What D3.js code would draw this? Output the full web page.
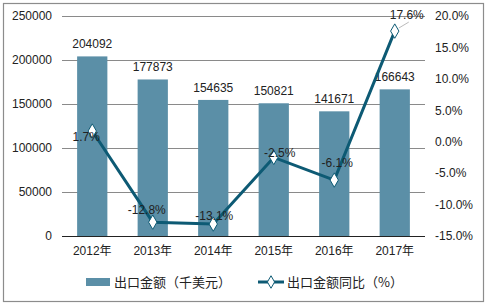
<!DOCTYPE html>
<html>
<head>
<meta charset="utf-8">
<script src="https://cdn.jsdelivr.net/npm/d3@7"></script>
<style>
body{margin:0;background:#fff;}
text{font-family:"Liberation Sans","Noto Sans CJK SC",sans-serif;font-size:12px;fill:#222;}
.lg text{font-family:"Noto Sans CJK SC",sans-serif;font-size:13px;}
</style>
</head>
<body>
<div id="chart"></div>
<script>
// data
var years=['2012年','2013年','2014年','2015年','2016年','2017年']
var amounts=[204092,177873,154635,150821,141671,166643]
var yoy=[1.7,-12.8,-13.1,-2.5,-6.1,17.6]
var leftTicks=[0,50000,100000,150000,200000,250000]
var rightTicks=[-15,-10,-5,0,5,10,15,20]
var legendNames=['出口金额（千美元）','出口金额同比（%）']

var W=487,H=306
var svg=d3.select('#chart').append('svg').attr('width',W).attr('height',H)

// outer frame
svg.append('rect').attr('x',3.5).attr('y',3.5).attr('width',480).attr('height',298)
    .attr('fill','#fff').attr('stroke','#8c8c8c').attr('stroke-width',1.2)

var x=d3.scaleBand().domain(years).range([62,425]).paddingInner(0.5).paddingOuter(0.25)
var y=d3.scaleLinear().domain([0,250000]).range([236,16])
var y2=d3.scaleLinear().domain([-15,20]).range([236,16])

// grid
svg.append('g').selectAll('line').data(leftTicks.slice(1)).join('line')
    .attr('x1',62).attr('x2',425).attr('y1',d=>Math.round(y(d))+0.5).attr('y2',d=>Math.round(y(d))+0.5)
    .attr('stroke','#8a8a8a').attr('stroke-width',1)

// bars
svg.append('g').selectAll('rect').data(amounts).join('rect')
    .attr('x',(d,i)=>x(years[i])).attr('width',x.bandwidth())
    .attr('y',d=>y(d)).attr('height',d=>236-y(d))
    .attr('fill','#5b8fa7')

svg.append('g').selectAll('text').data(amounts).join('text')
    .attr('x',(d,i)=>x(years[i])+x.bandwidth()/2).attr('y',d=>y(d)-8)
    .attr('text-anchor','middle').text(d=>d)

// baseline
svg.append('line').attr('x1',62).attr('x2',425).attr('y1',236.5).attr('y2',236.5)
    .attr('stroke','#222').attr('stroke-width',1)

// axes
var ax=svg.append('g').attr('transform','translate(62,0)')
    .call(d3.axisLeft(y).tickValues(leftTicks).tickSize(0).tickPadding(10).tickFormat(d=>d))
ax.select('.domain').remove()
ax.selectAll('text').style('font-size','12px')

var ax2=svg.append('g').attr('transform','translate(425,0)')
    .call(d3.axisRight(y2).tickValues(rightTicks).tickSize(0).tickPadding(10).tickFormat(d=>d.toFixed(1)+'%'))
ax2.select('.domain').remove()
ax2.selectAll('text').style('font-size','12px')

var axb=svg.append('g').attr('transform','translate(0,236)')
    .call(d3.axisBottom(x).tickSize(0).tickPadding(10))
axb.select('.domain').remove()
axb.selectAll('text').style('font-size','12px')

// line
var cx=(d,i)=>x(years[i])+x.bandwidth()/2
var line=d3.line().x((d,i)=>cx(d,i)).y(d=>y2(d))
svg.append('path').datum(yoy).attr('d',line)
    .attr('fill','none').attr('stroke','#0d5a74').attr('stroke-width',3)

// leader line for last label
var lastI=yoy.length-1
svg.append('line').attr('x1',cx(0,lastI)+4).attr('y1',y2(yoy[lastI])-3)
    .attr('x2',cx(0,lastI)+14).attr('y2',y2(yoy[lastI])-9)
    .attr('stroke','#bbb').attr('stroke-width',1)

svg.append('g').selectAll('path').data(yoy).join('path')
    .attr('d',d3.symbol().type(d3.symbolDiamond).size(60))
    .attr('transform',(d,i)=>`translate(${cx(d,i)},${y2(d)})`)
    .attr('fill','#fff').attr('stroke','#0d5a74').attr('stroke-width',1)

// label offsets relative to the points
var lblOff=[[-6,10],[-6,-8],[1,-4],[6,0],[3,-13],[12,-12]]
svg.append('g').selectAll('text').data(yoy).join('text')
    .attr('x',(d,i)=>cx(d,i)+lblOff[i][0]).attr('y',(d,i)=>y2(d)+lblOff[i][1])
    .attr('text-anchor','middle').text(d=>d.toFixed(1)+'%')

// legend
var lg=svg.append('g').attr('class','lg')
lg.append('rect').attr('x',86).attr('y',278).attr('width',24).attr('height',8).attr('fill','#5b8fa7')
lg.append('text').attr('x',114).attr('y',287).text(legendNames[0])
lg.append('line').attr('x1',258).attr('x2',284).attr('y1',282).attr('y2',282)
    .attr('stroke','#0d5a74').attr('stroke-width',3)
lg.append('path').attr('d',d3.symbol().type(d3.symbolDiamond).size(45))
    .attr('transform','translate(271,282)').attr('fill','#fff').attr('stroke','#0d5a74')
lg.append('text').attr('x',287).attr('y',287).text(legendNames[1])
</script>
</body>
</html>
